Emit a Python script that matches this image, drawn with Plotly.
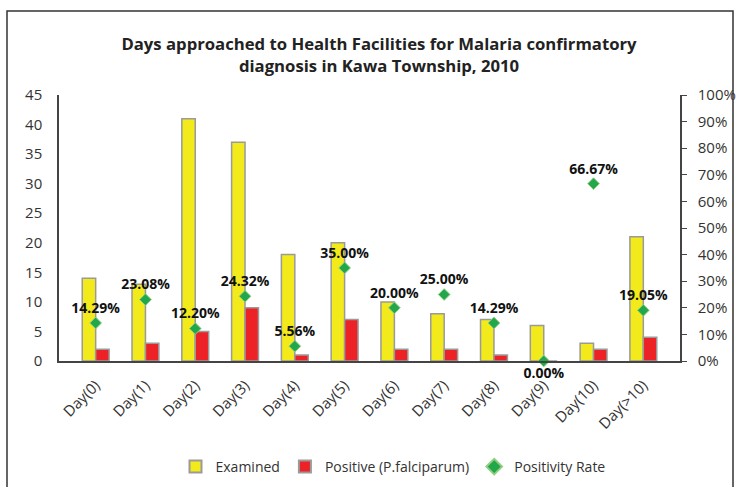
import plotly.graph_objects as go

categories = ["Day(0)", "Day(1)", "Day(2)", "Day(3)", "Day(4)", "Day(5)", "Day(6)",
              "Day(7)", "Day(8)", "Day(9)", "Day(10)", "Day(>10)"]
examined = [14, 13, 41, 37, 18, 20, 10, 8, 7, 6, 3, 21]
positive = [2, 3, 5, 9, 1, 7, 2, 2, 1, 0, 2, 4]
rate = [14.29, 23.08, 12.20, 24.32, 5.56, 35.00, 20.00, 25.00, 14.29, 0.00, 66.67, 19.05]

FONT = "Open Sans"
L, R, T, B = 59, 60, 95, 126
W, H = 740, 487
pw, ph = W - L - R, H - T - B

def px_x(x):
    return (x - L) / pw

def px_y(y):
    return (H - B - y) / ph

fig = go.Figure()
fig.add_trace(go.Bar(
    x=categories, y=examined, name="Examined",
    marker=dict(color="#f2ea1a", line=dict(color="#9a9a9a", width=1.5)),
))
fig.add_trace(go.Bar(
    x=categories, y=positive, name="Positive (P.falciparum)",
    marker=dict(color="#ec2227", line=dict(color="#9a9a9a", width=1.5)),
))
fig.add_trace(go.Scatter(
    x=categories, y=[r / 100 for r in rate], name="Positivity Rate", yaxis="y2",
    mode="markers+text", cliponaxis=False,
    marker=dict(symbol="diamond", size=9, color="#22a84a", line=dict(color="#8fcf7f", width=1)),
    text=[f"{r:.2f}%" for r in rate],
    textposition=["bottom center" if r == 0 else "top center" for r in rate],
    textfont=dict(family=FONT, size=14, color="#111111", weight="bold"),
))

fig.update_layout(
    width=W, height=H,
    margin=dict(l=L, r=R, t=T, b=B, autoexpand=False),
    paper_bgcolor="white", plot_bgcolor="white",
    barmode="group", bargap=0.46, bargroupgap=0.0,
    font=dict(family=FONT, size=14, color="#333333"),
    title=dict(
        text="<b>Days approached to Health Facilities for Malaria confirmatory<br>diagnosis in Kawa Township, 2010</b>",
        x=(379) / W, xanchor="center", y=1 - 50 / H, yanchor="middle", yref="container",
        font=dict(family=FONT, size=16.7, color="#222222"),
    ),
    xaxis=dict(
        showline=True, linecolor="#444444", linewidth=1.5, ticks="",
        tickangle=-45, ticklabelstandoff=8,
        tickfont=dict(family=FONT, size=15, color="#333333"),
        showgrid=False,
    ),
    yaxis=dict(
        range=[0, 45], dtick=5, showline=True, linecolor="#444444", linewidth=1.5,
        showgrid=False, zeroline=False, ticks="", ticklen=0, ticklabelstandoff=12,
        tickfont=dict(family=FONT, size=15, color="#333333"),
    ),
    yaxis2=dict(
        range=[0, 1], dtick=0.1, tickformat=".0%", overlaying="y", side="right",
        showline=True, linecolor="#444444", linewidth=1.5, showgrid=False, zeroline=False,
        ticks="outside", ticklen=5, tickcolor="#444444", ticklabelstandoff=8,
        tickfont=dict(family=FONT, size=15, color="#333333"),
    ),
    legend=dict(
        orientation="h", x=px_x(393), xanchor="center", y=px_y(467), yanchor="middle",
        font=dict(family=FONT, size=14, color="#333333"),
        itemsizing="constant", itemwidth=30,
    ),
    shapes=[dict(
        type="rect", xref="paper", yref="paper",
        x0=px_x(7), x1=px_x(733), y0=px_y(495), y1=px_y(11),
        line=dict(color="#333333", width=1.5), fillcolor="rgba(0,0,0,0)",
    )],
)

fig.write_html(
    "out.html",
    config={"displayModeBar": False},
    post_script="document.body.style.margin='0';document.body.style.overflow='hidden';",
)
